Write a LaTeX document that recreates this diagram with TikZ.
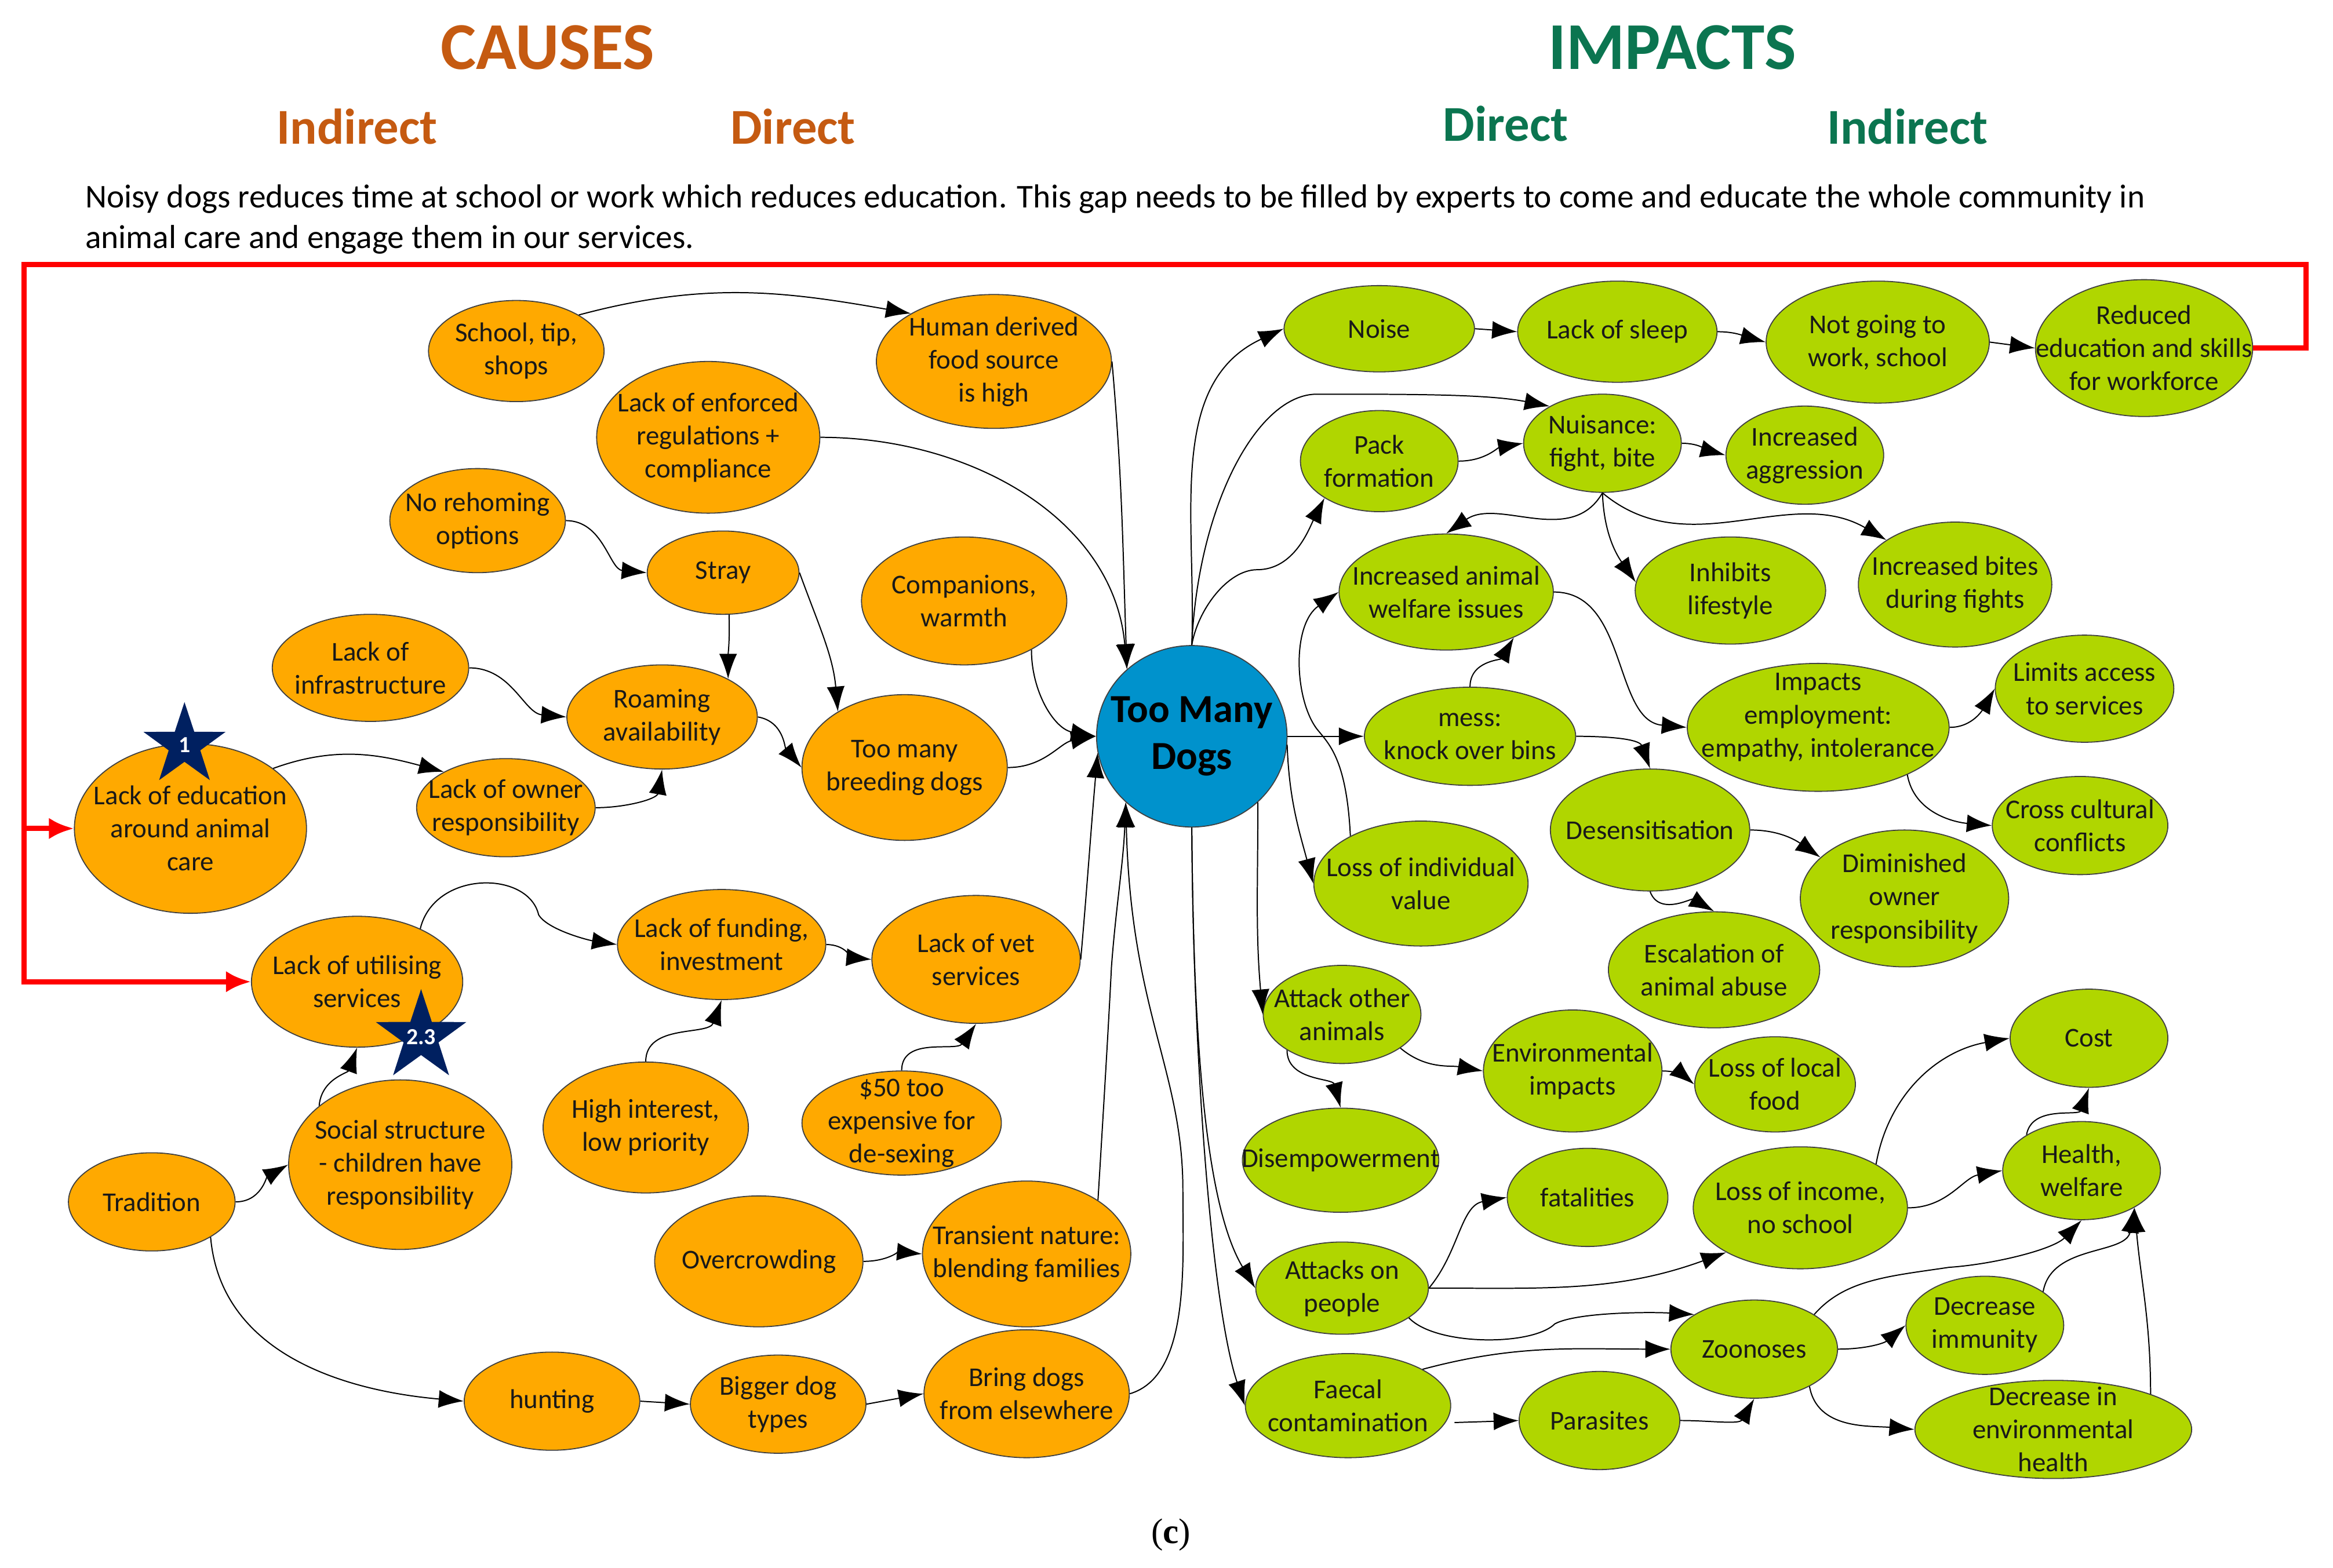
\documentclass[tikz,border=0pt]{standalone}
\usepackage{fontspec}
\setmainfont{Carlito}
\newfontfamily\capfont{Liberation Serif}
\usetikzlibrary{arrows.meta, shapes.geometric}
\definecolor{causeorange}{HTML}{FFA900}
\definecolor{impactgreen}{HTML}{B0D600}
\definecolor{corecyan}{HTML}{0092CC}
\definecolor{headorange}{HTML}{C55A11}
\definecolor{headgreen}{HTML}{0B7550}
\definecolor{starblue}{HTML}{002060}
\tikzset{
  sz/.style 2 args={minimum width=#1*0.025cm, minimum height=#2*0.025cm},
  bubble/.style={ellipse, draw=black!75!white, line width=0.5pt, inner sep=-2.5cm, align=center, text=black!90, font=\fontsize{13}{15.8}\selectfont},
  cause/.style={bubble, fill=causeorange},
  impact/.style={bubble, fill=impactgreen},
  core/.style={bubble, fill=corecyan, text=black, font=\fontsize{19}{22.5}\selectfont\bfseries},
  starmark/.style={star, star points=5, star point ratio=2.6, fill=starblue, inner sep=-6pt, text=white, font=\fontsize{11}{12}\selectfont\bfseries},
  link/.style={-{Latex[length=4.2mm,width=3mm]}, line width=0.55pt, black},
  loopback/.style={-{Latex[length=4.2mm,width=3.6mm]}, line width=2.5pt, red},
  bighead/.style={font=\fontsize{32}{36}\selectfont\bfseries},
  subhead/.style={font=\fontsize{24}{28}\selectfont\bfseries}
}

\begin{document}
\begin{tikzpicture}[x=0.025cm, y=-0.025cm]
  \useasboundingbox (0, 0) rectangle (1568, 1054);

  \node[bighead, text=headorange] at (368, 32) (causes) {CAUSES};
  \node[subhead, text=headorange] at (240, 85) (indirectcause) {Indirect};
  \node[subhead, text=headorange] at (533, 85) (directcause) {Direct};
  \node[bighead, text=headgreen] at (1124, 32) (impacts) {IMPACTS};
  \node[subhead, text=headgreen] at (1012, 83) (directimpact) {Direct};
  \node[subhead, text=headgreen] at (1282, 85) (indirectimpact) {Indirect};
  \node[anchor=north west, text width=34.6cm, align=justify, inner sep=0pt, font=\fontsize{15.9}{19.2}\selectfont] at (57, 124) (gapnote) {Noisy dogs reduces time at school or work which reduces education. This gap needs to be filled by experts to come and educate the whole community in\linebreak animal care and engage them in our services.};
  \node[font=\capfont\fontsize{17}{20}\selectfont] at (787, 1032) (sublabel) {(\textbf{c})};

  \node[cause, sz={118}{68}] at (347, 236) (school) {School, tip,\\shops};
  \node[cause, sz={158}{90}] at (668, 243) (food) {Human derived\\food source\\is high};
  \node[cause, sz={150}{102}] at (476, 294) (regs) {Lack of enforced\\regulations +\\compliance};
  \node[cause, sz={118}{70}] at (321, 350) (rehome) {No rehoming\\options};
  \node[cause, sz={102}{56}] at (486, 385) (stray) {Stray};
  \node[cause, sz={138}{86}] at (648, 404) (companions) {Companions,\\warmth};
  \node[cause, sz={132}{72}] at (249, 449) (infra) {Lack of\\infrastructure};
  \node[cause, sz={128}{70}] at (445, 482) (roaming) {Roaming\\availability};
  \node[cause, sz={138}{98}] at (608, 516) (breeding) {Too many\\breeding dogs};
  \node[cause, sz={156}{114}] at (128, 557) (lackedu) {Lack of education\\around animal\\care};
  \node[cause, sz={120}{66}] at (340, 543) (owner) {Lack of owner\\responsibility};
  \node[cause, sz={140}{74}] at (485, 635) (funding) {Lack of funding,\\investment};
  \node[cause, sz={140}{86}] at (656, 645) (vet) {Lack of vet\\services};
  \node[cause, sz={142}{88}] at (240, 660) (util) {Lack of utilising\\services};
  \node[cause, sz={138}{88}] at (434, 758) (highint) {High interest,\\low priority};
  \node[cause, sz={134}{70}] at (606, 755) (fifty) {\$50 too\\expensive for\\de-sexing};
  \node[cause, sz={150}{114}] at (269, 783) (social) {Social structure\\- children have\\responsibility};
  \node[cause, sz={112}{66}] at (102, 808) (tradition) {Tradition};
  \node[cause, sz={140}{88}] at (510, 848) (overcrowd) {Overcrowding};
  \node[cause, sz={140}{98}] at (690, 843) (transient) {Transient nature:\\blending families};
  \node[cause, sz={118}{66}] at (371, 942) (hunting) {hunting};
  \node[cause, sz={118}{66}] at (523, 944) (bigdog) {Bigger dog\\types};
  \node[cause, sz={138}{86}] at (690, 937) (bring) {Bring dogs\\from elsewhere};

  \node[core, sz={128}{122}] at (801, 495) (toomany) {Too Many\\Dogs};

  \node[impact, sz={128}{58}] at (927, 221) (noise) {Noise};
  \node[impact, sz={134}{68}] at (1087, 223) (sleep) {Lack of sleep};
  \node[impact, sz={150}{82}] at (1262, 230) (work) {Not going to\\work, school};
  \node[impact, sz={146}{92}] at (1441, 234) (reduced) {Reduced\\education and skills\\for workforce};
  \node[impact, sz={106}{68}] at (927, 310) (pack) {Pack\\formation};
  \node[impact, sz={106}{66}] at (1077, 298) (nuisance) {Nuisance:\\fight, bite};
  \node[impact, sz={106}{66}] at (1213, 306) (aggression) {Increased\\aggression};
  \node[impact, sz={144}{78}] at (972, 398) (welfare) {Increased animal\\welfare issues};
  \node[impact, sz={128}{72}] at (1163, 397) (inhibits) {Inhibits\\lifestyle};
  \node[impact, sz={130}{84}] at (1314, 393) (bites) {Increased bites\\during fights};
  \node[impact, sz={120}{72}] at (1401, 463) (limits) {Limits access\\to services};
  \node[impact, sz={142}{66}] at (988, 495) (mess) {mess:\\knock over bins};
  \node[impact, sz={176}{86}] at (1222, 489) (employ) {Impacts\\employment:\\empathy, intolerance\\[-4pt]\mbox{}};
  \node[impact, sz={134}{82}] at (1109, 558) (desens) {Desensitisation};
  \node[impact, sz={118}{66}] at (1398, 555) (crossc) {Cross cultural\\conflicts};
  \node[impact, sz={144}{84}] at (955, 594) (lossval) {Loss of individual\\value};
  \node[impact, sz={140}{92}] at (1280, 604) (diminished) {Diminished\\owner\\responsibility};
  \node[impact, sz={142}{78}] at (1152, 652) (abuse) {Escalation of\\animal abuse};
  \node[impact, sz={106}{66}] at (1404, 698) (cost) {Cost};
  \node[impact, sz={106}{66}] at (902, 682) (attackoth) {Attack other\\animals};
  \node[impact, sz={120}{82}] at (1057, 720) (environ) {Environmental\\impacts};
  \node[impact, sz={108}{64}] at (1193, 729) (lossfood) {Loss of local\\food};
  \node[impact, sz={132}{70}] at (901, 780) (disemp) {Disempowerment};
  \node[impact, sz={106}{66}] at (1399, 787) (health) {Health,\\welfare};
  \node[impact, sz={108}{66}] at (1067, 805) (fatal) {fatalities};
  \node[impact, sz={144}{82}] at (1210, 812) (income) {Loss of income,\\no school};
  \node[impact, sz={116}{62}] at (902, 866) (attackppl) {Attacks on\\people};
  \node[impact, sz={112}{66}] at (1179, 907) (zoonoses) {Zoonoses};
  \node[impact, sz={106}{66}] at (1334, 891) (immunity) {Decrease\\immunity};
  \node[impact, sz={138}{70}] at (906, 945) (faecal) {Faecal\\contamination};
  \node[impact, sz={108}{66}] at (1075, 955) (parasites) {Parasites};
  \node[impact, sz={186}{66}] at (1380, 961) (envhealth) {Decrease in\\environmental\\health};

  \node[starmark, minimum size=58*0.025cm] at (124, 501) (starone) {1};
  \node[starmark, minimum size=64*0.025cm] at (283, 697) (startwo) {2.3};

  \draw[link] (school.30) to[out=15, in=170] (food.150);
  \draw[link] (food.east) to[out=-85, in=92] (toomany.134);
  \draw[link] (regs.east) to[out=0, in=95] (toomany.134);
  \draw[link] (rehome.east) to[out=0, in=175] (stray.west);
  \draw[link] (stray.-82) to[out=-88, in=90] (roaming.30);
  \draw[link] (stray.east) to[out=-70, in=95] (breeding.140);
  \draw[link] (companions.-36) to[out=-90, in=170] (toomany.west);
  \draw[link] (infra.east) to[out=0, in=175] (roaming.west);
  \draw[link] (roaming.east) to[out=-10, in=130] (breeding.west);
  \draw[link] (breeding.east) to[out=0, in=190] (toomany.west);
  \draw[link] (lackedu.36) to[out=20, in=165] (owner.150);
  \draw[link] (owner.east) to[out=0, in=-100] (roaming.south);
  \draw[link] (util.40) .. controls (292, 585) and (355, 585) .. (362, 615) .. controls (368, 625) and (395, 632) .. (funding.west);
  \draw[link] (funding.east) to[out=0, in=175] (vet.west);
  \draw[link] (vet.east) to[out=85, in=-95] (toomany.190);
  \draw[link] (highint.north) to[out=90, in=-110] (funding.south);
  \draw[link] (fifty.north) to[out=90, in=-125] (vet.south);
  \draw[link] (social.144) to[out=85, in=-110] (util.south);
  \draw[link] (tradition.east) to[out=0, in=-150] (social.west);
  \draw[link] (tradition.-31) to[out=-85, in=175] (hunting.west);
  \draw[link] (hunting.east) -- (bigdog.west);
  \draw[link] (bigdog.east) -- (bring.west);
  \draw[link] (overcrowd.east) to[out=0, in=175] (transient.west);
  \draw[link] (transient.37) .. controls (742, 740) and (745, 690) .. (747, 650) .. controls (750, 610) and (755, 580) .. (toomany.225);
  \draw[link] (bring.east) .. controls (800, 925) and (795, 850) .. (795, 800) .. controls (795, 720) and (760, 680) .. (toomany.225);

  \draw[link] (toomany.north) to[out=88, in=205] (noise.west);
  \draw[link] (toomany.north) .. controls (805, 340) and (845, 265) .. (885, 265) .. controls (950, 265) and (1000, 265) .. (nuisance.145);
  \draw[link] (toomany.north) .. controls (805, 410) and (825, 383) .. (845, 383) .. controls (870, 383) and (880, 355) .. (pack.214);
  \draw[link] (pack.east) to[out=0, in=190] (nuisance.west);
  \draw[link] (nuisance.east) to[out=0, in=165] (aggression.west);
  \draw[link] (noise.east) -- (sleep.west);
  \draw[link] (sleep.east) to[out=0, in=165] (work.west);
  \draw[link] (work.east) -- (reduced.west);
  \draw[link] (nuisance.south) to[out=-120, in=35] (welfare.north);
  \draw[link] (nuisance.south) to[out=-88, in=125] (inhibits.175);
  \draw[link] (nuisance.south) to[out=-40, in=150] (bites.147);
  \draw[link] (welfare.east) to[out=0, in=175] (employ.west);
  \draw[link] (mess.north) to[out=90, in=-120] (welfare.-34);
  \draw[link] (toomany.east) -- (mess.west);
  \draw[link] (mess.east) to[out=0, in=110] (desens.north);
  \draw[link] (lossval.146) .. controls (905, 510) and (893, 500) .. (885, 490) .. controls (870, 470) and (868, 420) .. (welfare.west);
  \draw[link] (toomany.-5) to[out=-88, in=105] (lossval.west);
  \draw[link] (toomany.-45) to[out=-90, in=95] (attackoth.west);
  \draw[link] (toomany.south) .. controls (802, 700) and (810, 810) .. (attackppl.west);
  \draw[link] (toomany.south) .. controls (802, 720) and (815, 880) .. (faecal.west);
  \draw[link] (employ.east) to[out=0, in=-120] (limits.west);
  \draw[link] (employ.-28) to[out=-80, in=175] (crossc.west);
  \draw[link] (desens.east) to[out=0, in=145] (diminished.154);
  \draw[link] (desens.south) to[out=-70, in=150] (abuse.north);
  \draw[link] (attackoth.-30) to[out=-40, in=170] (environ.west);
  \draw[link] (attackoth.-147) to[out=-90, in=105] (disemp.north);
  \draw[link] (environ.east) to[out=0, in=140] (lossfood.west);
  \draw[link] (attackppl.east) to[out=50, in=190] (fatal.west);
  \draw[link] (attackppl.east) to[out=0, in=200] (income.-149);
  \draw[link] (attackppl.-24) .. controls (965, 905) and (1030, 905) .. (1045, 890) .. controls (1060, 882) and (1110, 882) .. (zoonoses.150);
  \draw[link] (faecal.26) to[out=15, in=180] (zoonoses.west);
  \draw[link, shorten <=0.15cm] (faecal.-10) -- (parasites.west);
  \draw[link] (parasites.east) to[out=0, in=-120] (zoonoses.south);
  \draw[link] (zoonoses.30) .. controls (1240, 860) and (1270, 858) .. (1310, 852) .. controls (1340, 850) and (1380, 840) .. (health.south);
  \draw[link] (zoonoses.east) to[out=0, in=-140] (immunity.west);
  \draw[link] (zoonoses.-34) to[out=-80, in=175] (envhealth.west);
  \draw[link] (immunity.30) to[out=80, in=-100] (health.-35);
  \draw[link] (envhealth.20) to[out=90, in=-85] (health.-35);
  \draw[link] (income.30) to[out=80, in=190] (cost.west);
  \draw[link] (income.east) to[out=0, in=190] (health.west);
  \draw[link] (health.147) to[out=80, in=-110] (cost.south);

  \draw[loopback] (reduced.east) -| (1550, 178) -- (16, 178) |- (util.west);
  \draw[loopback] (16, 557) -- (lackedu.west);
\end{tikzpicture}
\end{document}
